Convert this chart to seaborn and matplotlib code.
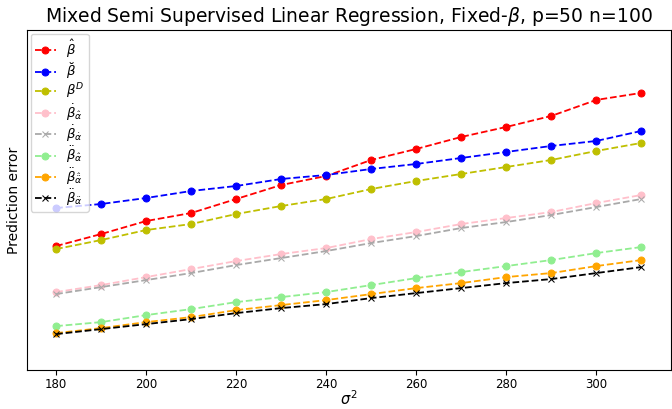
import numpy as np
import pandas as pd
import matplotlib
matplotlib.use("Agg")
import matplotlib.pyplot as plt
import seaborn as sns

sigma2 = [180, 190, 200, 210, 220, 230, 240, 250, 260, 270, 280, 290, 300, 310]

# prediction error (arbitrary units)
beta_hat = [124, 136, 149, 157, 171, 185, 194, 210, 221, 233, 243, 254, 270, 277]
beta_breve = [162, 166, 172, 179, 184, 191, 195, 201, 206, 212, 218, 224, 229, 239]
beta_D = [121, 130, 140, 146, 156, 164, 171, 181, 189, 196, 203, 210, 219, 227]
beta_dot_ahat = [78, 85, 93, 101, 109, 116, 122, 131, 138, 146, 152, 158, 167, 175]
beta_dot_a = [76, 83, 90, 97, 105, 112, 119, 127, 134, 142, 148, 155, 163, 171]
beta_ddot_ahat = [44, 48, 55, 61, 68, 73, 78, 85, 92, 98, 104, 110, 117, 123]
beta_ddot_a2 = [37, 42, 48, 53, 60, 65, 70, 76, 82, 87, 93, 97, 104, 110]
beta_ddot_a = [36, 41, 46, 51, 57, 62, 66, 72, 77, 82, 87, 91, 97, 103]

labels = [r"$\hat{\beta}$", r"$\breve{\beta}$", r"$\beta^D$",
          r"$\dot{\beta}_{\hat{\alpha}}$", r"$\dot{\beta}_{\dot{\alpha}}$",
          r"$\ddot{\beta}_{\hat{\alpha}}$", r"$\ddot{\beta}_{\hat{\ddot{\alpha}}}$",
          r"$\ddot{\beta}_{\ddot{\alpha}}$"]
series = [beta_hat, beta_breve, beta_D, beta_dot_ahat, beta_dot_a,
          beta_ddot_ahat, beta_ddot_a2, beta_ddot_a]
colors = ["red", "blue", "y", "pink", "darkgray", "lightgreen", "orange", "black"]
markers = ["o", "o", "o", "o", "x", "o", "o", "x"]

sns.set_style("ticks", {"axes.edgecolor": "black", "xtick.color": "black",
                        "text.color": "black", "axes.labelcolor": "black"})
fig = plt.figure(figsize=(6.72, 4.09), dpi=100)
ax = fig.add_axes([0.040, 0.095, 0.958, 0.832])

for vals, lab, c, m in zip(series, labels, colors, markers):
    sns.lineplot(x=sigma2, y=vals, ax=ax, color=c, marker=m, linestyle="--",
                 label=lab, markersize=5, markeredgecolor=c, linewidth=1.3)

ax.set_ylim(0, 340)
ax.set_yticks([])
ax.set_xticks([180, 200, 220, 240, 260, 280, 300])
ax.tick_params(axis="x", labelsize=8.5, pad=2)
ax.set_xlabel(r"$\sigma^2$", fontsize=10.5, labelpad=-1)
ax.set_ylabel("Prediction error", fontsize=10)
ax.set_title(r"Mixed Semi Supervised Linear Regression, Fixed-$\beta$, p=50 n=100", fontsize=13.5)
ax.legend(loc="upper left", fontsize=9.5, labelspacing=0.05, handlelength=1.6,
          borderaxespad=0.3, borderpad=0.3)

fig.savefig("out.png", dpi=100)
